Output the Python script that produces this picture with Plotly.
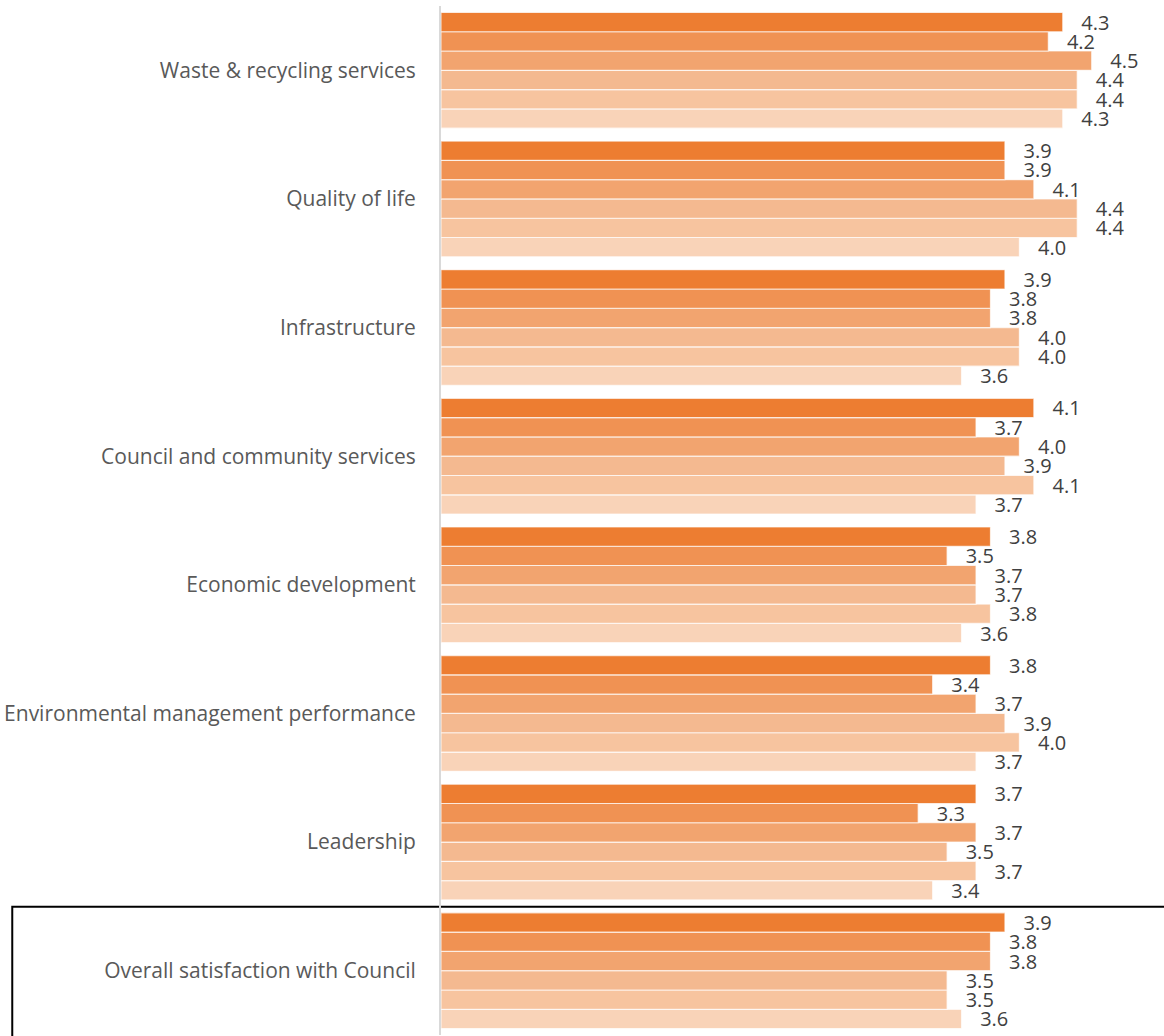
import plotly.graph_objects as go

# Rating categories, top to bottom
categories = [
    "Waste & recycling services",
    "Quality of life",
    "Infrastructure",
    "Council and community services",
    "Economic development",
    "Environmental management performance",
    "Leadership",
    "Overall satisfaction with Council",
]

# Mean scores per survey wave (wave 1 drawn at the top of each group)
wave_1 = [4.3, 3.9, 3.9, 4.1, 3.8, 3.8, 3.7, 3.9]
wave_2 = [4.2, 3.9, 3.8, 3.7, 3.5, 3.4, 3.3, 3.8]
wave_3 = [4.5, 4.1, 3.8, 4.0, 3.7, 3.7, 3.7, 3.8]
wave_4 = [4.4, 4.4, 4.0, 3.9, 3.7, 3.9, 3.5, 3.5]
wave_5 = [4.4, 4.4, 4.0, 4.1, 3.8, 4.0, 3.7, 3.5]
wave_6 = [4.3, 4.0, 3.6, 3.7, 3.6, 3.7, 3.4, 3.6]

waves = [wave_1, wave_2, wave_3, wave_4, wave_5, wave_6]
names = ["Wave 1", "Wave 2", "Wave 3", "Wave 4", "Wave 5", "Wave 6"]
colors = ["#ED7D31", "#F09253", "#F2A46F", "#F4B990", "#F7C49F", "#F9D3B8"]

fig = go.Figure()

# Plotly stacks horizontal groups bottom-up, so add the lightest wave first
for vals, name, col in reversed(list(zip(waves, names, colors))):
    fig.add_trace(go.Bar(
        y=categories,
        x=vals,
        orientation="h",
        name=name,
        marker=dict(color=col, line=dict(color="rgba(255,255,255,0.7)", width=1.2)),
        text=[f"{v:.1f}" for v in vals],
        texttemplate="   %{text}",
        textposition="outside",
        constraintext="none",
        textfont=dict(family="Open Sans", size=20, color="#404040"),
        cliponaxis=False,
    ))

# Frame around the overall satisfaction row
fig.add_shape(
    type="rect",
    xref="paper", yref="paper",
    x0=-0.593, x1=1.05, y0=0.1247, y1=-0.1,
    line=dict(color="black", width=2),
    fillcolor="rgba(0,0,0,0)",
    layer="below",
)

fig.update_layout(
    width=1164,
    height=1036,
    margin=dict(l=441, r=0, t=6, b=1),
    paper_bgcolor="white",
    plot_bgcolor="white",
    barmode="group",
    bargap=0.1,
    bargroupgap=0.0,
    showlegend=False,
    font=dict(family="Open Sans", size=21, color="#595959"),
    xaxis=dict(
        range=[0, 5],
        showgrid=False,
        showticklabels=False,
        zeroline=False,
        showline=False,
        fixedrange=True,
    ),
    yaxis=dict(
        categoryorder="array",
        categoryarray=list(reversed(categories)),
        range=[-0.5, 7.5],
        showgrid=False,
        showline=True,
        linecolor="#D9D9D9",
        linewidth=2,
        ticks="",
        ticklabelstandoff=19,
        tickfont=dict(family="Open Sans", size=21, color="#595959"),
        fixedrange=True,
    ),
)

fig.write_html("out.html")
